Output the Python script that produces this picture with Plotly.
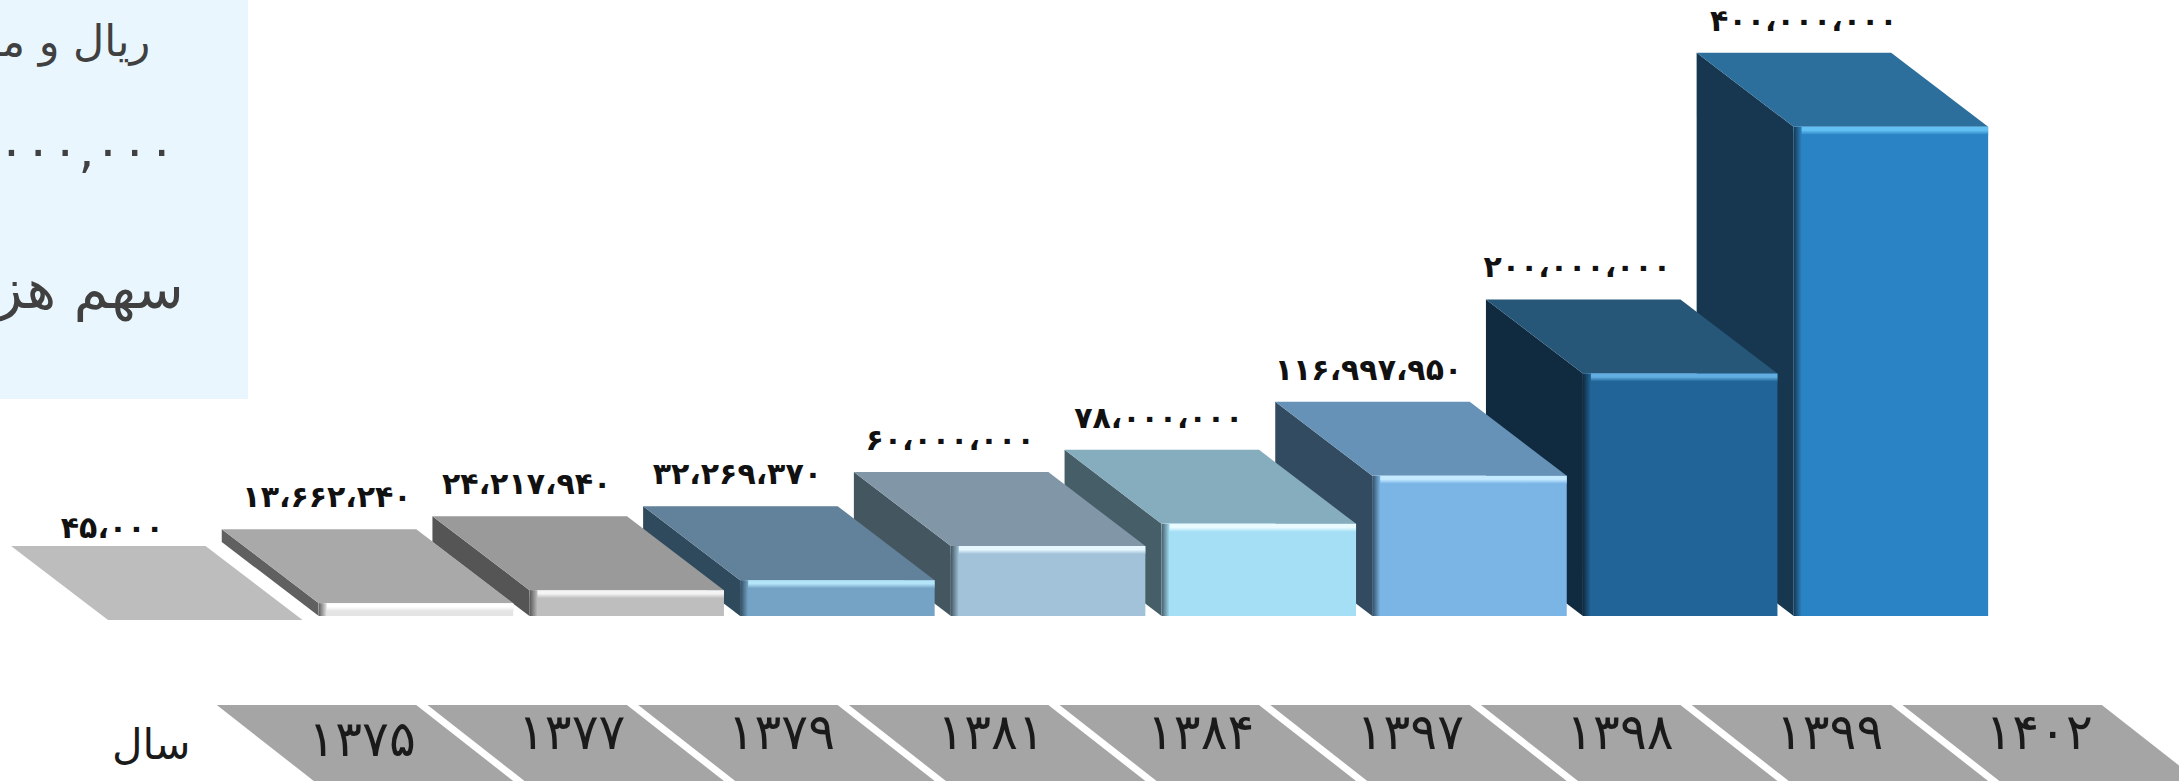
import plotly.graph_objects as go

# ---- data ----
years = ["۱۳۷۵", "۱۳۷۷", "۱۳۷۹", "۱۳۸۱", "۱۳۸۴", "۱۳۹۷", "۱۳۹۸", "۱۳۹۹", "۱۴۰۲"]
values_million = [0.045, 13.66224, 24.21794, 32.26937, 60.0, 78.0, 116.99795, 200.0, 400.0]
value_labels = ["۴۵،۰۰۰", "۱۳،۶۶۲،۲۴۰", "۲۴،۲۱۷،۹۴۰", "۳۲،۲۶۹،۳۷۰", "۶۰،۰۰۰،۰۰۰",
                "۷۸،۰۰۰،۰۰۰", "۱۱۶،۹۹۷،۹۵۰", "۲۰۰،۰۰۰،۰۰۰", "۴۰۰،۰۰۰،۰۰۰"]
front_colors = ["#BDBDBD", "#E4E4E4", "#BEBEBE", "#74A3C5", "#A1C2D8", "#A4DFF6", "#7AB5E6", "#216598", "#2A83C5"]
top_colors = ["#BDBDBD", "#A9A9A9", "#9A9A9A", "#62819A", "#8197A7", "#85ADBD", "#6592B6", "#265779", "#2C6F9D"]
side_colors = ["#BDBDBD", "#606060", "#555555", "#2E4A5C", "#445660", "#455E68", "#324B60", "#102B40", "#16374F"]
glow_colors = ["#BDBDBD", "#FFFFFF", "#F4F4F4", "#B4E4F8", "#E6F7FF", "#EAFBFF", "#C4EAFF", "#62AEE2", "#62C0F2"]
panel_lines = ["ریال و میلیون", "۰۰۰,۰۰۰", "سهم هزینه"]
axis_title = "سال"

# ---- scales of the two axes, the drawing depends only on these ----
W, H = 2179, 781
PITCH = 210.7            # px per category
PX_PER_M = 1.233         # px per million
X0_PX, Y0_PX = 205.3, 620
x_range = [-X0_PX / PITCH, (W - X0_PX) / PITCH]
y_range = [(Y0_PX - H) / PX_PER_M, Y0_PX / PX_PER_M]
BAR_W = 194.5 / PITCH
DX = -97 / PITCH
DY = 74 / PX_PER_M
BASE = 4 / PX_PER_M
GLOW = 8 / PX_PER_M
EDGE = 8 / PITCH
FONT = "DejaVu Sans"
n = len(values_million)
xs = list(range(n))

fig = go.Figure()


def poly(px, py, color, axes=("x", "y"), gradient=None):
    kw = dict(fillgradient=gradient) if gradient else dict(fillcolor=color)
    fig.add_trace(go.Scatter(x=px + px[:1], y=py + py[:1], mode="lines", fill="toself",
                             line=dict(width=0), hoverinfo="skip", showlegend=False,
                             xaxis=axes[0], yaxis=axes[1], **kw))


# year strips
STRIP_TOP, STRIP_BOTTOM = -69, y_range[0]
for i in range(n):
    cx = i + 1
    l, r = cx - 0.485, cx + BAR_W / 2
    poly([l + DX, r + DX, r, l], [STRIP_TOP, STRIP_TOP, STRIP_BOTTOM, STRIP_BOTTOM], "#A5A5A5")

# side and top faces, from the back bar to the front one
for i in reversed(range(n)):
    v = values_million[i]
    l, r = i - BAR_W / 2, i + BAR_W / 2
    if v > BASE:
        poly([l, l + DX, l + DX, l], [v, v + DY, BASE + DY, BASE], side_colors[i])
    poly([l, r, r + DX, l + DX], [v, v, v + DY, v + DY], top_colors[i])

# front faces, on an overlaying pair of axes so they sit over every side face
front_idx = [i for i in range(n) if values_million[i] > BASE]
fig.add_trace(go.Bar(x=[xs[i] for i in front_idx],
                     y=[values_million[i] - BASE for i in front_idx],
                     base=BASE, width=BAR_W,
                     marker=dict(color=[front_colors[i] for i in front_idx], line=dict(width=0)),
                     hoverinfo="skip", showlegend=False, xaxis="x2", yaxis="y2"))

for i in front_idx:
    v = values_million[i]
    l, r = i - BAR_W / 2, i + BAR_W / 2
    glow = min(GLOW, (v - BASE) * 0.7)
    poly([l, r, r, l], [v, v, v - glow, v - glow], None, ("x2", "y2"),
         dict(type="vertical", colorscale=[[0, front_colors[i]], [0.55, glow_colors[i]], [1, glow_colors[i]]]))
    poly([l, l + EDGE, l + EDGE, l], [v, v, BASE, BASE], None, ("x2", "y2"),
         dict(type="horizontal", colorscale=[[0, side_colors[i]], [1, front_colors[i]]]))

# value labels above the back edge of each top face
LABEL_UP = 29.5 / PX_PER_M
label_nudge_px = [4, 8, -3, -3, -1, -3, -4, -6, 10]
fig.add_trace(go.Scatter(
    x=[i + DX + label_nudge_px[i] / PITCH for i in xs],
    y=[values_million[i] + DY + (LABEL_UP if i else 15 / PX_PER_M) for i in xs],
    mode="text", text=value_labels, textposition="middle center",
    textfont=dict(family=FONT, size=30, color="#111111", weight="bold"),
    hoverinfo="skip", showlegend=False, xaxis="x2", yaxis="y2", cliponaxis=False))

# year labels
year_y_px = [743] + [736] * (n - 1)
fig.add_trace(go.Scatter(
    x=[0.744 + 0.995 * i for i in xs], y=[(Y0_PX - p) / PX_PER_M for p in year_y_px],
    mode="text", text=years, textposition="middle center",
    textfont=dict(family=FONT, size=50, color="#1A1A1A"),
    hoverinfo="skip", showlegend=False, xaxis="x2", yaxis="y2"))

axis = dict(visible=False, fixedrange=True)
annotation = dict(xref="paper", yref="paper", showarrow=False, xanchor="right", yanchor="middle",
                  align="right")


def ann(text, x_px, y_px, size, color):
    return dict(annotation, text=text, x=x_px / W, y=1 - y_px / H,
                font=dict(family=FONT, size=size, color=color))


fig.update_layout(
    width=W, height=H, autosize=False,
    margin=dict(l=0, r=0, t=0, b=0, pad=0),
    paper_bgcolor="white", plot_bgcolor="rgba(0,0,0,0)",
    barmode="overlay", showlegend=False,
    xaxis=dict(axis, range=x_range),
    yaxis=dict(axis, range=y_range),
    xaxis2=dict(axis, range=x_range, overlaying="x"),
    yaxis2=dict(axis, range=y_range, overlaying="y"),
    shapes=[dict(type="rect", xref="paper", yref="paper", x0=0, x1=248 / W, y0=1 - 399 / H, y1=1,
                 fillcolor="#E9F6FD", line=dict(width=0), layer="below")],
    annotations=[
        ann(panel_lines[0], 152, 42, 43, "#404040"),
        ann(panel_lines[1], 177, 150, 50, "#404040"),
        ann(panel_lines[2], 186, 289, 56, "#404040"),
        ann(axis_title, 193, 744, 42, "#1A1A1A"),
    ],
)

fig.write_html("out.html", config=dict(displayModeBar=False),
               post_script="document.body.style.margin='0';document.documentElement.style.overflow='hidden';")
